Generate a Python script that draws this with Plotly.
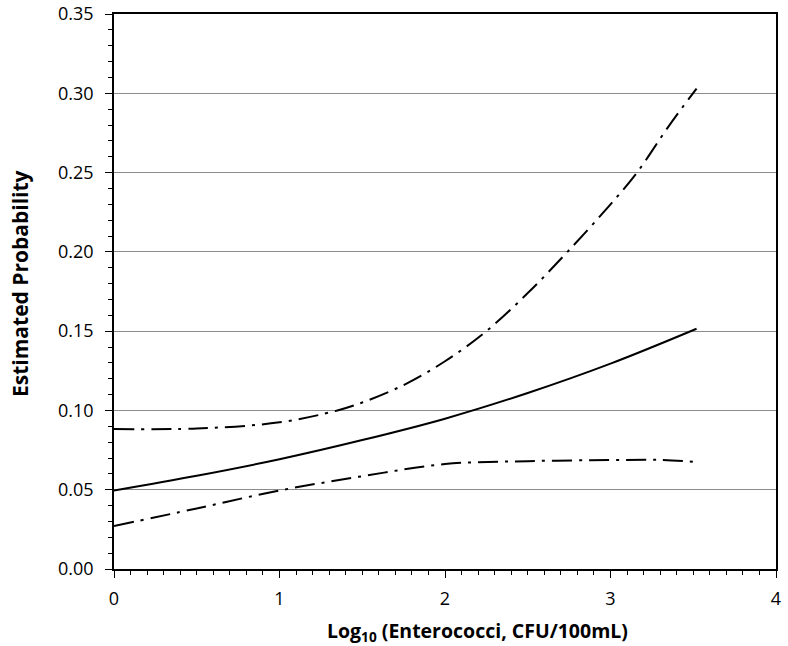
import plotly.graph_objects as go

# Data
x_est = [0.0, 0.5, 1.0, 1.5, 2.0, 2.5, 3.0, 3.52]
y_est = [0.0495, 0.0588, 0.0692, 0.0813, 0.0948, 0.1110, 0.1295, 0.1515]

x_up = [0.0, 0.5, 1.0, 1.35, 1.5, 1.75, 2.0, 2.25, 2.5, 2.74, 3.0, 3.16, 3.35, 3.52]
y_up = [0.0883, 0.0886, 0.0925, 0.100, 0.105, 0.116, 0.131, 0.150, 0.174, 0.200, 0.230, 0.250, 0.279, 0.303]

x_lo = [0.0, 0.5, 1.0, 1.5, 2.0, 2.5, 3.0, 3.3, 3.52]
y_lo = [0.0271, 0.0382, 0.0495, 0.0585, 0.0662, 0.0680, 0.0687, 0.0688, 0.0675]

x_ticks = [0, 1, 2, 3, 4]
y_ticks = [0.00, 0.05, 0.10, 0.15, 0.20, 0.25, 0.30, 0.35]

FONT = "'Open Sans', sans-serif"

L, R, T, B = 114, 12, 14, 77
W, H = 788, 646
pw = W - L - R
ph = H - T - B

def px_x(p):
    return (p - L) / pw

def px_y(p):
    return ((H - B) - p) / ph

DASH = "20px,7px,3px,7px"

fig = go.Figure()
fig.add_trace(go.Scatter(x=x_up, y=y_up, mode="lines", line=dict(color="black", width=2, dash=DASH, shape="spline"), showlegend=False))
fig.add_trace(go.Scatter(x=x_lo, y=y_lo, mode="lines", line=dict(color="black", width=2, dash=DASH, shape="spline"), showlegend=False))
fig.add_trace(go.Scatter(x=x_est, y=y_est, mode="lines", line=dict(color="black", width=2, shape="spline"), showlegend=False))

fig.update_layout(
    width=W, height=H,
    margin=dict(l=L, r=R, t=T, b=B),
    paper_bgcolor="white", plot_bgcolor="white",
    font=dict(family=FONT, color="black", size=18),
    xaxis=dict(range=[0, 4], tickvals=x_ticks, ticktext=[str(v) for v in x_ticks],
               automargin=False,
               showgrid=False, zeroline=False, showline=True, linecolor="black", linewidth=1.5,
               mirror=True, ticks="outside", ticklen=7, tickwidth=1, tickcolor="black",
               ticklabelstandoff=6,
               minor=dict(dtick=0.1, ticks="outside", ticklen=4, tickcolor="black", showgrid=False)),
    yaxis=dict(range=[0, 0.35], tickvals=y_ticks, ticktext=["%.2f" % v for v in y_ticks],
               automargin=False,
               showgrid=True, gridcolor="#8c8c8c", gridwidth=1, zeroline=False,
               showline=True, linecolor="black", linewidth=1.5, mirror=True,
               ticks="outside", ticklen=7, tickwidth=1, tickcolor="black",
               ticklabelstandoff=8,
               minor=dict(dtick=0.01, ticks="outside", ticklen=4, tickcolor="black", showgrid=False)),
    annotations=[
        dict(text="<b>Log<sub>10</sub> (Enterococci, CFU/100mL)</b>", x=px_x(477), y=px_y(631),
             xanchor="center", yanchor="middle",
             xref="paper", yref="paper", showarrow=False, font=dict(size=19.5)),
        dict(text="<b>Estimated Probability</b>", x=px_x(20), y=px_y(283), textangle=-90,
             xanchor="center", yanchor="middle",
             xref="paper", yref="paper", showarrow=False, font=dict(size=21)),
    ],
)

fig.write_html("out.html", config={"displayModeBar": False},
               post_script="document.body.style.margin='0';document.body.style.padding='0';")
